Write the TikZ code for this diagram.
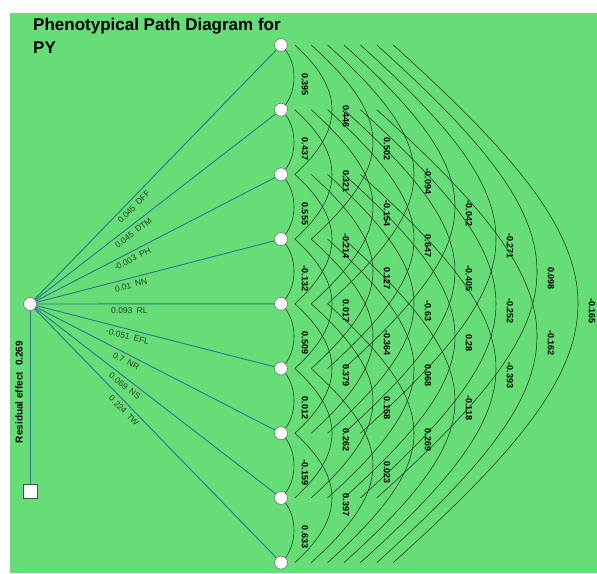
\documentclass[tikz,border=0pt]{standalone}
\usepackage{fontspec}
\setmainfont{Liberation Sans}
\usetikzlibrary{calc}
\pgfdeclarelayer{bglayer}
\pgfsetlayers{bglayer,main}
\definecolor{bgc}{RGB}{102,221,118}
\definecolor{pathc}{RGB}{45,115,145}
\definecolor{arcc}{RGB}{25,55,30}
\definecolor{labc}{RGB}{35,70,40}
\tikzset{
  trait/.style={circle,fill=white,draw=black!55,line width=0.6pt,minimum size=13pt,inner sep=0pt},
  resbox/.style={rectangle,fill=white,draw=black!70,line width=0.6pt,minimum size=14pt,inner sep=0pt},
  pathline/.style={draw=pathc,line width=0.9pt},
  arcline/.style={draw=arcc,line width=0.55pt},
  arclab/.style={font=\bfseries\fontsize{9}{9}\selectfont,text=black,rotate=-90,inner sep=0pt},
  pathlab/.style={font=\fontsize{8.5}{8.5}\selectfont,text=labc,sloped,below=3pt,inner sep=0.5pt,pos=0.39},
  titlestyle/.style={font=\bfseries\fontsize{17}{17}\selectfont,anchor=base west,inner sep=0pt},
  resstyle/.style={font=\bfseries\fontsize{10}{10}\selectfont,rotate=90,inner sep=0pt}
}
\newcommand\corr[3]{%
  \pgfmathsetmacro\pd{#2-#1}%
  \pgfmathsetmacro\pxs{\pd<1.5 ? 0 : 16.4*\pd-19}%
  \pgfmathsetmacro\pxa{\pd<1.5 ? 13 : 41*\pd-31}%
  \pgfmathsetmacro\pk{(\pxa-\pxs)/0.75}%
  \pgfmathsetmacro\ph{0.9*\pk}%
  \pgfmathsetmacro\pkx{\pxs+\pk}%
  \pgfmathsetmacro\plx{41*\pd-17}%
  \coordinate (s#1x#2) at ($(n#1.center)+(\pxs,0)$);%
  \coordinate (e#1x#2) at ($(n#2.center)+(\pxs,0)$);%
  \coordinate (p#1x#2) at ($(n#1.center)+(\pkx,\ph)$);%
  \coordinate (q#1x#2) at ($(n#2.center)+(\pkx,-\ph)$);%
  \draw[arcline] (s#1x#2) .. controls (p#1x#2) and (q#1x#2) .. (e#1x#2);%
  \node[arclab] (l#1x#2) at ($(n#1.center)!0.5!(n#2.center)+(\plx,7)$) {#3};%
}
\begin{document}
\begin{tikzpicture}[x=1pt,y=-1pt]
\useasboundingbox (0,0) rectangle (597,573);
% nodes
\foreach \k in {1,...,9} {
  \node[trait] (n\k) at (281,{45+64.7*(\k-1)}) {};
}
\node[trait] (c) at (30,304) {};
\node[resbox] (sq) at (30,491.5) {};
\begin{pgfonlayer}{bglayer}
\fill[bgc] (10,13) rectangle (597,573);
\foreach \a/\b/\v in {1/2/0.395,2/3/0.437,3/4/0.555,4/5/-0.132,5/6/0.509,6/7/0.012,7/8/-0.159,8/9/0.633,
  1/3/0.446,2/4/0.321,3/5/-0.214,4/6/0.017,5/7/0.379,6/8/0.262,7/9/0.397,
  1/4/0.502,2/5/-0.154,3/6/0.127,4/7/-0.364,5/8/0.158,6/9/0.023,
  1/5/-0.094,2/6/0.647,3/7/-0.63,4/8/0.068,5/9/0.269,
  1/6/-0.042,2/7/-0.405,3/8/0.28,4/9/-0.118,
  1/7/-0.271,2/8/-0.252,3/9/-0.393,
  1/8/0.098,2/9/-0.162,
  1/9/-0.165} {
  \corr{\a}{\b}{\v}
}
\foreach \k/\t in {1/{0.045\enspace DFF},2/{0.045\enspace DTM},3/{-0.003\enspace PH},4/{0.01\enspace NN},
  5/{0.093\enspace RL},6/{-0.051\enspace EFL},7/{0.7\enspace NR},8/{0.069\enspace NS},9/{0.224\enspace TW}} {
  \draw[pathline] (c) -- node[pathlab] {\t} (n\k);
}
\draw[pathline] (c) -- (sq);
\end{pgfonlayer}
\node[titlestyle] (t1) at (33,30) {Phenotypical Path Diagram for};
\node[titlestyle] (t2) at (33,53) {PY};
\node[resstyle] (res) at (19,392) {Residual effect\hspace{6pt}0.269};
\end{tikzpicture}
\end{document}
